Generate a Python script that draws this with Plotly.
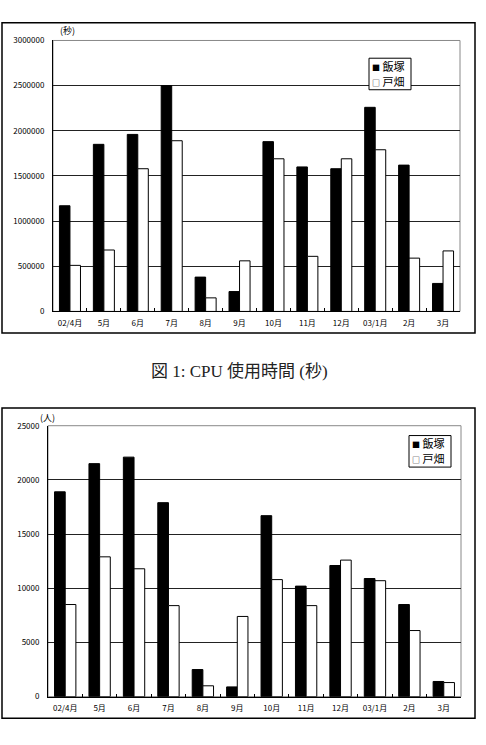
import plotly.graph_objects as go

months = ["02/4月", "5月", "6月", "7月", "8月", "9月", "10月", "11月", "12月", "03/1月", "2月", "3月"]
series_names = ["飯塚", "戸畑"]

cpu_iizuka = [1170000, 1850000, 1960000, 2500000, 380000, 220000, 1880000, 1600000, 1580000, 2260000, 1620000, 310000]
cpu_tobata = [510000, 680000, 1580000, 1890000, 150000, 560000, 1690000, 610000, 1690000, 1790000, 590000, 670000]

users_iizuka = [18900, 21500, 22100, 17900, 2500, 900, 16700, 10200, 12100, 10900, 8500, 1400]
users_tobata = [8500, 12900, 11800, 8400, 1000, 7400, 10800, 8400, 12600, 10700, 6100, 1300]

W, H = 486, 745
def px(x): return x / W
def py(y): return 1 - y / H

TICKFONT = dict(family="Noto Sans CJK JP, DejaVu Sans", size=8, color="black")

fig = go.Figure()

# chart 1
fig.add_trace(go.Bar(x=months, y=cpu_iizuka, name=series_names[0], marker=dict(color="black", line=dict(color="black", width=1)), xaxis="x", yaxis="y", showlegend=False))
fig.add_trace(go.Bar(x=months, y=cpu_tobata, name=series_names[1], marker=dict(color="white", line=dict(color="black", width=1)), xaxis="x", yaxis="y", showlegend=False))
# chart 2
fig.add_trace(go.Bar(x=months, y=users_iizuka, name=series_names[0], marker=dict(color="black", line=dict(color="black", width=1)), xaxis="x2", yaxis="y2", showlegend=False))
fig.add_trace(go.Bar(x=months, y=users_tobata, name=series_names[1], marker=dict(color="white", line=dict(color="black", width=1)), xaxis="x2", yaxis="y2", showlegend=False))

xcommon = dict(type="category", showgrid=False, showline=True, linecolor="black", linewidth=1,
               ticks="inside", tickson="boundaries", ticklen=3, tickcolor="black",
               tickfont=TICKFONT, ticklabelstandoff=4, fixedrange=True)
ycommon = dict(showgrid=True, gridcolor="#222", gridwidth=1, showline=True, linecolor="black", linewidth=1,
               ticks="", tickfont=TICKFONT, ticklabelstandoff=6, zeroline=False, fixedrange=True)

fig.update_layout(
    width=W, height=H,
    margin=dict(l=0, r=0, t=0, b=0),
    paper_bgcolor="white", plot_bgcolor="white",
    barmode="group", bargap=0.38, bargroupgap=0,
    xaxis=dict(domain=[px(53), px(460)], anchor="y", **xcommon),
    yaxis=dict(domain=[py(310), py(35)], anchor="x", range=[0, 3000000], dtick=500000,
               tickformat="d", **ycommon),
    xaxis2=dict(domain=[px(48), px(461)], anchor="y2", **xcommon),
    yaxis2=dict(domain=[py(701), py(426)], anchor="x2", range=[0, 25000], dtick=5000,
                tickformat="d", **ycommon),
)

shapes = []
# outer frames
for (x0, y0, x1, y1) in [(2, 17, 475, 332), (2, 408, 475, 723)]:
    shapes.append(dict(type="rect", xref="paper", yref="paper", x0=px(x0), x1=px(x1), y0=py(y1), y1=py(y0),
                       line=dict(color="black", width=1.5), fillcolor="rgba(0,0,0,0)", layer="above"))
# plot area gray border
for (x0, y0, x1, y1) in [(53, 35, 460, 310), (48, 426, 461, 701)]:
    shapes.append(dict(type="rect", xref="paper", yref="paper", x0=px(x0), x1=px(x1), y0=py(y1), y1=py(y0),
                       line=dict(color="#888", width=1), fillcolor="rgba(0,0,0,0)", layer="below"))
# legend boxes
legend_boxes = [(369, 53, 411, 85), (409, 436, 451, 468)]
for (x0, y0, x1, y1) in legend_boxes:
    shapes.append(dict(type="rect", xref="paper", yref="paper", x0=px(x0), x1=px(x1), y0=py(y1), y1=py(y0),
                       line=dict(color="black", width=1), fillcolor="white", layer="above"))
fig.update_layout(shapes=shapes)

LEGFONT = dict(family="Noto Sans CJK JP, DejaVu Sans", size=11, color="black")
annotations = [
    dict(text="(秒)", x=px(67), y=py(25), xref="paper", yref="paper", showarrow=False,
         xanchor="center", yanchor="middle",
         font=dict(family="Noto Sans CJK JP", size=9, color="black")),
    dict(text="(人)", x=px(47), y=py(418), xref="paper", yref="paper", showarrow=False,
         xanchor="center", yanchor="middle",
         font=dict(family="Noto Sans CJK JP", size=9, color="black")),
    dict(text="図 1: CPU 使用時間 (秒)", x=px(239), y=py(370), xref="paper", yref="paper", showarrow=False,
         xanchor="center", yanchor="middle",
         font=dict(family="Liberation Serif, Noto Sans CJK JP", size=17, color="#222")),
]
symbols = ["■", "□"]
for (x0, y0, x1, y1) in legend_boxes:
    for i, nm in enumerate(series_names):
        annotations.append(dict(text="<span style='font-size:8px'>" + symbols[i] + "</span> " + nm,
                                x=px(x0 + 2), y=py(y0 + 8 + i * 15), xref="paper", yref="paper",
                                xanchor="left", yanchor="middle", showarrow=False, font=LEGFONT,
                                borderpad=0))
fig.update_layout(annotations=annotations)

fig.write_html("out.html")
